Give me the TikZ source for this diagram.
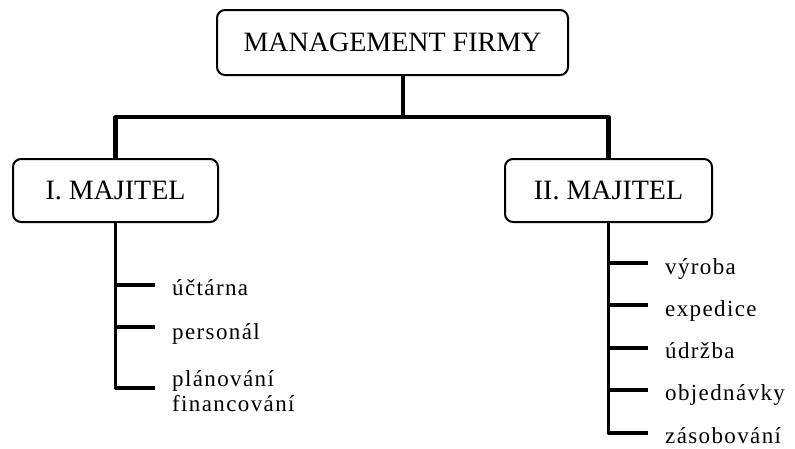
\documentclass[tikz,border=0pt]{standalone}
\usepackage{fontspec}
\setmainfont{Liberation Serif}
\newfontfamily\itemfont[LetterSpace=6]{Liberation Serif}
\usetikzlibrary{positioning}

\begin{document}
\begin{tikzpicture}[
      x=1pt,y=-1pt,
      unitbox/.style={draw,line width=2pt,rounded corners=8pt,inner sep=0pt,
        font=\fontsize{28}{32}\selectfont},
      branch/.style={line width=4.2pt,line join=round},
      twig/.style={line width=3.2pt,line join=round},
      duty/.style={anchor=base west,inner sep=0pt,align=left,
        font=\itemfont\fontsize{23}{25}\selectfont}
    ]
    \useasboundingbox (0,0) rectangle (795,448);

    \node[unitbox,minimum width=351pt,minimum height=65pt] (top) at (392.5,42.5)
      {MANAGEMENT FIRMY};
    \node[unitbox,minimum width=205pt,minimum height=63pt] (own1) at (115.5,190.5)
      {I. MAJITEL};
    \node[unitbox,minimum width=207pt,minimum height=63pt] (own2) at (608.5,190.5)
      {II. MAJITEL};

    \coordinate (split) at (403,117);
    \draw[branch] (top.south -| split) -- (split);
    \draw[branch] (own1.north) |- (split) -| (own2.north);

    % first owner
    \coordinate (a1) at (155,285);
    \coordinate (a2) at (155,327);
    \coordinate (a3) at (155,388);
    \node[duty] (acct) at (172,295) {účtárna};
    \node[duty] (staff) at (172,339) {personál};
    \node[duty] (plan) at (172,411) {plánování\\financování};
    \draw[twig] (own1.south) |- (a3);
    \foreach \t in {a1,a2} \draw[twig] (own1.south |- \t) -- (\t);

    % second owner
    \coordinate (b1) at (648,263);
    \coordinate (b2) at (648,305);
    \coordinate (b3) at (648,348);
    \coordinate (b4) at (648,390);
    \coordinate (b5) at (648,433);
    \node[duty] (prod) at (665,274) {výroba};
    \node[duty] (ship) at (665,316) {expedice};
    \node[duty] (care) at (665,358) {údržba};
    \node[duty] (orders) at (665,400) {objednávky};
    \node[duty] (stock) at (665,443) {zásobování};
    \draw[twig] (own2.south) |- (b5);
    \foreach \t in {b1,b2,b3,b4} \draw[twig] (own2.south |- \t) -- (\t);
  \end{tikzpicture}
\end{document}
